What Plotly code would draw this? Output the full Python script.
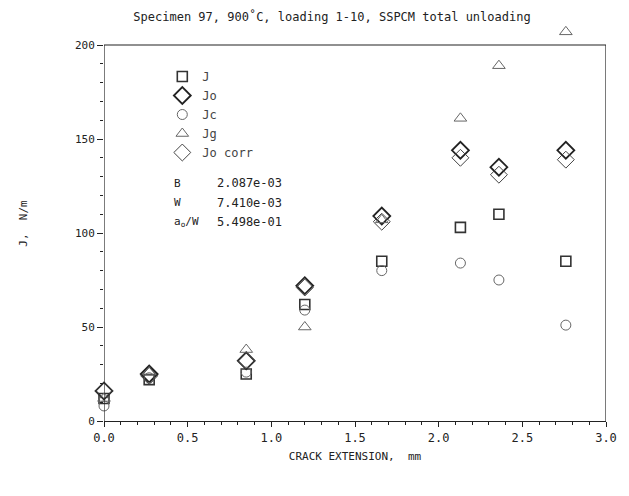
import plotly.graph_objects as go

crack = [0.0, 0.27, 0.85, 1.20, 1.66, 2.13, 2.36, 2.76]
J      = [12, 22, 25, 62, 85, 103, 110, 85]
Jo     = [16, 25, 32, 72, 109, 144, 135, 144]
Jc     = [8, 23, 26, 59, 80, 84, 75, 51]
Jg     = [12, 26, 38, 50, 107, 161, 189, 207]
Jocorr = [16, 24, 32, 71, 106, 140, 131, 139]

params = [("B", "2.087e-03"), ("W", "7.410e-03"), ("a<sub>o</sub>/W", "5.498e-01")]

X_MAX = 3.0
Y_MAX = 200

FONT = "DejaVu Sans Mono"
TOP, BOT = 26, 421
H = BOT - TOP
y_top = Y_MAX * H / (421 - 45)

fig = go.Figure()

def add(name, y, symbol, color, size, lw):
    fig.add_trace(go.Scatter(
        x=crack, y=y, mode="markers", name=name, cliponaxis=False,
        marker=dict(symbol=symbol, size=size, color=color,
                    line=dict(color=color, width=lw))))

add("J", J, "square-open", "#333333", 10, 1.6)
add("Jo", Jo, "diamond-open", "#222222", 13, 1.8)
add("Jc", Jc, "circle-open", "#666666", 10, 1.0)
add("Jg", Jg, "triangle-up-open", "#666666", 11, 1.0)
add("Jo corr", Jocorr, "diamond-open", "#444444", 13, 1.0)

for i, (k, v) in enumerate(params):
    yy = (BOT - (183 + 19.5 * i)) / H
    fig.add_annotation(xref="paper", yref="paper", x=(173 - 104) / 508, y=yy,
                       text=k, showarrow=False, xanchor="left", yanchor="middle",
                       font=dict(family=FONT, size=11, color="#222"))
    fig.add_annotation(xref="paper", yref="paper", x=(216 - 104) / 508, y=yy,
                       text=v, showarrow=False, xanchor="left", yanchor="middle",
                       font=dict(family=FONT, size=12, color="#222"))

frame = dict(type="line", xref="x", yref="y", line=dict(color="#222", width=1.2))
fig.add_shape(x0=0, x1=X_MAX, y0=Y_MAX, y1=Y_MAX, **frame)
fig.add_shape(x0=0, x1=0, y0=0, y1=Y_MAX, **frame)
fig.add_shape(x0=X_MAX, x1=X_MAX, y0=0, y1=Y_MAX, **frame)

fig.update_layout(
    width=629, height=496,
    margin=dict(l=104, r=17, t=TOP, b=75),
    paper_bgcolor="white", plot_bgcolor="white",
    font=dict(family=FONT, size=11, color="#222"),
    title=dict(text="Specimen 97, 900˚C, loading 1-10, SSPCM total unloading",
               x=332 / 629, xanchor="center", y=1 - 17 / 496, yanchor="middle",
               font=dict(family=FONT, size=12, color="#222")),
    showlegend=True,
    legend=dict(x=(163 - 104) / 508, y=(BOT - 62) / H, xanchor="left", yanchor="top",
                bgcolor="rgba(0,0,0,0)", font=dict(family=FONT, size=12, color="#444"),
                itemwidth=30, tracegroupgap=0),
    xaxis=dict(range=[0, X_MAX], showgrid=False, zeroline=False,
               showline=True, linecolor="#222", linewidth=1.2, mirror=False,
               ticks="outside", ticklen=5, tickcolor="#222", dtick=0.5, tickformat=".1f",
               minor=dict(dtick=0.1, ticks="outside", ticklen=3, tickcolor="#222"),
               title=dict(text="CRACK EXTENSION,  mm", standoff=8,
                          font=dict(family=FONT, size=11)),
               tickfont=dict(family=FONT, size=12)),
    yaxis=dict(range=[0, y_top], showgrid=False, zeroline=False,
               showline=False,
               ticks="outside", ticklen=6, tickcolor="#222",
               tickvals=[0, 50, 100, 150, 200],
               minor=dict(tickvals=list(range(0, 201, 10)), ticks="outside", ticklen=3,
                          tickcolor="#222"),
               title=dict(text="J,  N/m", standoff=45, font=dict(family=FONT, size=11)),
               tickfont=dict(family=FONT, size=11)),
)

fig.write_html("out.html")
